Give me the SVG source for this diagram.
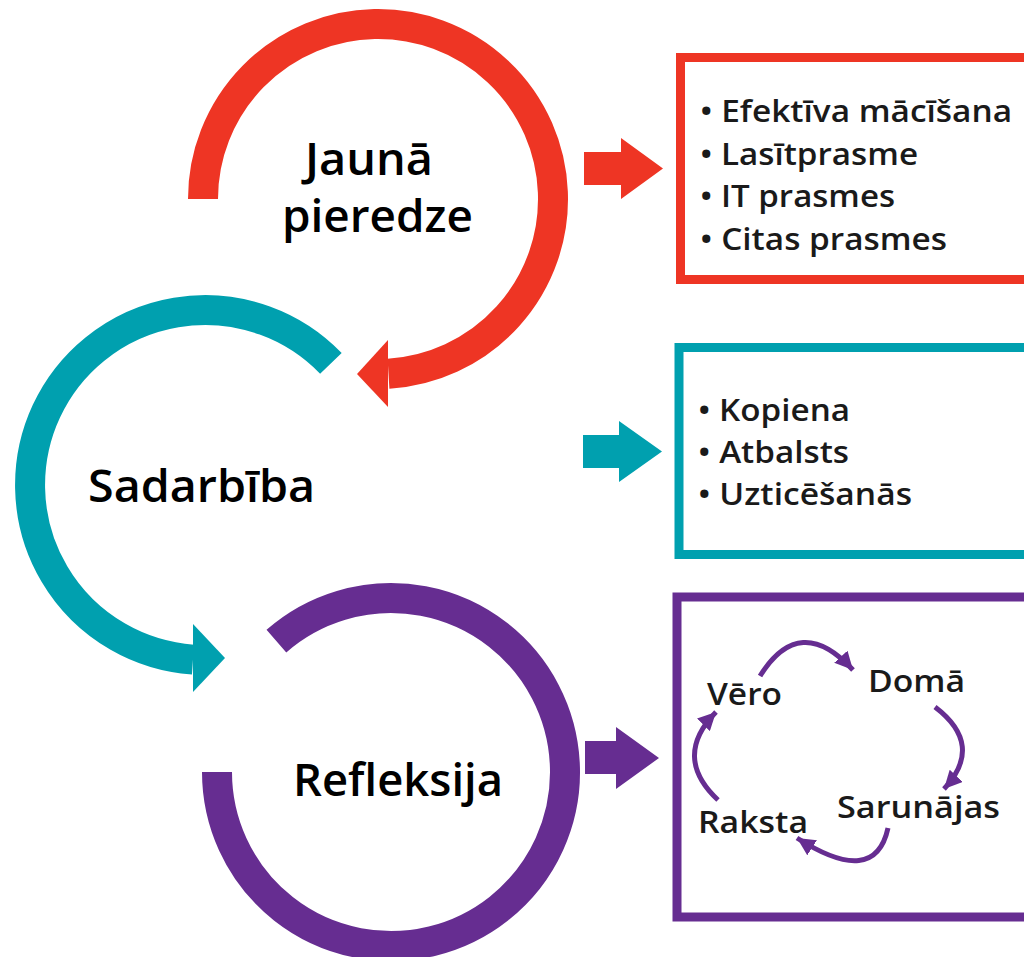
<svg xmlns="http://www.w3.org/2000/svg" width="1024" height="957" viewBox="0 0 1024 957">
<style>
.lbl{font-family:"Open Sans","Noto Sans","Liberation Sans",sans-serif;font-weight:600;fill:#000;font-size:46px;}
.item{font-family:"Open Sans","Noto Sans","Liberation Sans",sans-serif;font-weight:600;font-size:31px;fill:#1a1a1a;}
.ring{fill:none;stroke-width:30;stroke-linecap:butt;}
.box{fill:#fff;stroke-width:9;}
.small{fill:none;stroke:#662D91;stroke-width:5;}
</style>
<defs>
<marker id="ah" markerUnits="userSpaceOnUse" markerWidth="18" markerHeight="18" refX="16" refY="8" orient="auto" viewBox="0 0 16 16">
<path d="M0,0 L16,8 L0,16 z" fill="#662D91"/>
</marker>
</defs>
<rect width="1024" height="957" fill="#fff"/>
<g id="connectors">
<polygon id="arrow-red" points="584,152 621,152 621,138 663,168.5 621,199 621,185 584,185" fill="#EE3524"/>
<polygon id="arrow-teal" points="583,435 619,435 619,421 662,451.5 619,482 619,468 583,468" fill="#00A0AF"/>
<polygon id="arrow-purple" points="585,741 616,741 616,727 659,758 616,789 616,774 585,774" fill="#662D91"/>
</g>
<g id="node-jauna">
<path class="ring" stroke="#EE3524" d="M203,199 A175,175 0 1 1 388.5,373.7"/>
<polygon points="388,340 388,407 357,374" fill="#EE3524"/>
<text class="lbl" x="305" y="175" textLength="128" lengthAdjust="spacingAndGlyphs">Jaunā</text>
<text class="lbl" x="282" y="232" textLength="191" lengthAdjust="spacingAndGlyphs">pieredze</text>
</g>
<g id="node-sadarbiba">
<path class="ring" stroke="#00A0AF" d="M330.9,363.4 A175,175 0 1 0 193,659.6"/>
<polygon points="193,624 193,692 225,658" fill="#00A0AF"/>
<text class="lbl" x="88" y="502" textLength="227" lengthAdjust="spacingAndGlyphs">Sadarbība</text>
</g>
<g id="node-refleksija">
<path class="ring" stroke="#662D91" d="M276.4,641.1 A174,174 0 1 1 217,772"/>
<text class="lbl" x="293" y="796" textLength="210" lengthAdjust="spacingAndGlyphs">Refleksija</text>
</g>
<g id="box-red">
<rect class="box" stroke="#EE3524" x="680.5" y="57.5" width="360" height="222"/>
<text class="item" x="700" y="122" textLength="312" lengthAdjust="spacingAndGlyphs">• Efektīva mācīšana</text>
<text class="item" x="700" y="165" textLength="218" lengthAdjust="spacingAndGlyphs">• Lasītprasme</text>
<text class="item" x="700" y="207" textLength="195" lengthAdjust="spacingAndGlyphs">• IT prasmes</text>
<text class="item" x="700" y="250" textLength="247" lengthAdjust="spacingAndGlyphs">• Citas prasmes</text>
</g>
<g id="box-teal">
<rect class="box" stroke="#00A0AF" x="679" y="347.5" width="360" height="207"/>
<text class="item" x="698" y="421" textLength="152" lengthAdjust="spacingAndGlyphs">• Kopiena</text>
<text class="item" x="698" y="463" textLength="151" lengthAdjust="spacingAndGlyphs">• Atbalsts</text>
<text class="item" x="698" y="505" textLength="214" lengthAdjust="spacingAndGlyphs">• Uzticēšanās</text>
</g>
<g id="box-purple">
<rect class="box" stroke="#662D91" stroke-width="10" x="677" y="597" width="360" height="320"/>
<text class="item" x="707" y="705" textLength="75" lengthAdjust="spacingAndGlyphs">Vēro</text>
<text class="item" x="868" y="692" textLength="97" lengthAdjust="spacingAndGlyphs">Domā</text>
<text class="item" x="837" y="818" textLength="163" lengthAdjust="spacingAndGlyphs">Sarunājas</text>
<text class="item" x="698" y="833" textLength="110" lengthAdjust="spacingAndGlyphs">Raksta</text>
<path class="small" marker-end="url(#ah)" d="M760,676 Q800,612 853,670"/>
<path class="small" marker-end="url(#ah)" d="M935,707 Q985,745 944,789"/>
<path class="small" marker-end="url(#ah)" d="M888,828 Q875,888 797,838"/>
<path class="small" marker-end="url(#ah)" d="M718,800 Q672,757 716,712"/>
</g>
</svg>
